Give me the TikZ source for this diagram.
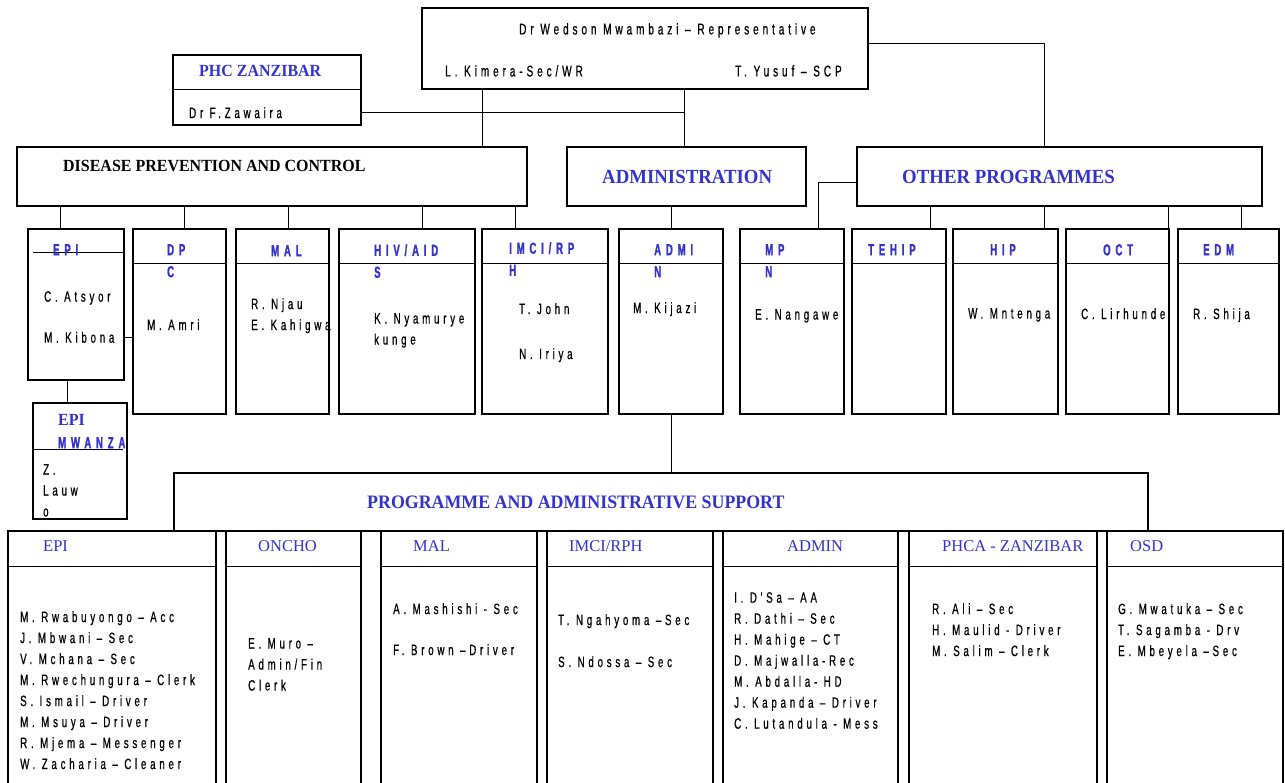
\documentclass[tikz,border=0pt]{standalone}
\usepackage{fontspec}
\setmainfont{Liberation Serif}
\newfontfamily\namefont{Liberation Sans}[FakeStretch=0.65,LetterSpace=25,FakeBold=0.6]
\newfontfamily\tagfont{Liberation Sans}[FakeStretch=0.6,LetterSpace=30,BoldFeatures={FakeBold=1.2}]
\newfontfamily\headfont{Liberation Serif}[FakeStretch=0.94]
\definecolor{orgblue}{RGB}{51,51,204}
\tikzset{
  unit/.style={draw,line width=1.2pt,inner sep=0pt,outer sep=0pt,anchor=north west},
  link/.style={line width=1pt},
  head/.style={inner sep=0pt,anchor=mid west,font=\headfont\bfseries\fontsize{#1}{#1}\selectfont},
  tag/.style={inner sep=0pt,anchor=north west,align=left,text=orgblue,font=\tagfont\bfseries\fontsize{16}{22}\selectfont},
  who/.style={inner sep=0pt,anchor=north west,align=left,font=\namefont\fontsize{#1}{21}\selectfont},
  who/.default=15,
  unitname/.style={inner sep=0pt,anchor=mid west,text=orgblue,font=\fontsize{16.5}{18}\selectfont}
}
\begin{document}
\begin{tikzpicture}[x=1pt,y=-1pt]
    \path[use as bounding box,fill=white] (0,0) rectangle (1285,782);
    \node[unit,minimum width=446pt,minimum height=81pt] (rep) at (422,8) {};
    \node[unit,minimum width=188pt,minimum height=70pt] (phc) at (173,55) {};
    \node[unit,minimum width=510pt,minimum height=59pt] (prev) at (17,147) {};
    \node[unit,minimum width=239pt,minimum height=59pt] (adm) at (567,147) {};
    \node[unit,minimum width=405pt,minimum height=59pt] (oth) at (857,147) {};
    \node[unit,minimum width=96pt,minimum height=151pt] (epi) at (28,229) {};
    \foreach \nm/\xa/\ww in {dpc/133/93,mal/236/93,hiv/339/136,imci/482/126,admn/619/104,mpn/740/104,tehip/852/94,hip/953/105,oct/1066/103,edm/1178/101}
        \node[unit,minimum width=\ww pt,minimum height=185pt] (\nm) at (\xa,229) {};
    \node[unit,minimum width=94pt,minimum height=116pt] (mwanza) at (33,403) {};
    \node[unit,minimum width=974pt,minimum height=58pt] (pas) at (174,473) {};
    \foreach \nm/\xa/\ww in {b-epi/8/208,b-oncho/226/135,b-mal/381/156,b-imci/547/166,b-admin/723/175,b-phca/909/188,b-osd/1107/176}
        \node[unit,minimum width=\ww pt,minimum height=259pt] (\nm) at (\xa,531) {};

    \draw[link] ([yshift=-34pt]phc.north west) -- ([yshift=-34pt]phc.north east);
    \draw[link] ([shift={(5pt,-23pt)}]epi.north west) -- ([yshift=-23pt]epi.north east);
    \foreach \nm in {dpc,mal,hiv,imci,admn,mpn,tehip,hip,oct,edm}
        \draw[link] ([yshift=-34pt]\nm.north west) -- ([yshift=-34pt]\nm.north east);
    \draw[link] ([yshift=-46pt]mwanza.north west) -- ([shift={(-4pt,-46pt)}]mwanza.north east);
    \foreach \nm in {b-epi,b-oncho,b-mal,b-imci,b-admin,b-phca,b-osd}
        \draw[link] ([yshift=-35pt]\nm.north west) -- ([yshift=-35pt]\nm.north east);

    \coordinate (join) at (684,112);
    \draw[link] (rep.south -| 482,0) -- (prev.north -| 482,0);
    \draw[link] (rep.south -| join) -- (adm.north -| join);
    \draw[link] (phc.east |- join) -- (join);
    \draw[link] (rep.east |- 0,43) -| (oth.north -| 1044,0);
    \draw[link] (oth.west |- 0,182) -| (mpn.north -| 818,0);
    \foreach \nm/\xx in {epi/60,dpc/184,mal/288,hiv/422,imci/515}
        \draw[link] (prev.south -| \xx,0) -- (\nm.north -| \xx,0);
    \foreach \nm/\xx in {tehip/930,hip/1044,oct/1168,edm/1241}
        \draw[link] (oth.south -| \xx,0) -- (\nm.north -| \xx,0);
    \draw[link] (adm.south -| 671,0) -- (admn.north -| 671,0);
    \draw[link] (admn.south -| 671,0) -- (pas.north -| 671,0);
    \draw[link] (epi.east |- 0,337) -- (dpc.west |- 0,337);
    \draw[link] (epi.south -| 67,0) -- (mwanza.north -| 67,0);

    \node[who=15.5] (t-rep) at (519,23) {Dr Wedson Mwambazi – Representative};
    \node[who=15.5] (t-sec) at (445,65) {L. Kimera-Sec/WR};
    \node[who=15.5] (t-scp) at (735,65) {T. Yusuf – SCP};
    \node[head=17,text=orgblue] (t-phc) at (199,74) {PHC ZANZIBAR};
    \node[who] (n-phc) at (189,107) {Dr F.Zawaira};
    \node[head=17] (t-prev) at (63,169) {DISEASE PREVENTION AND CONTROL};
    \node[head=20,text=orgblue] (t-adm) at (602,181) {ADMINISTRATION};
    \node[head=20,text=orgblue] (t-oth) at (902,181) {OTHER PROGRAMMES};
    \node[head=19,text=orgblue] (t-pas) at (367,506) {PROGRAMME AND ADMINISTRATIVE SUPPORT};

    \node[tag] (t-epi) at (53,244) {EPI};
    \node[tag] (t-dpc) at (167,244) {DP\\C};
    \node[tag] (t-mal) at (271,245) {MAL};
    \node[tag] (t-hiv) at (374,244) {HIV/AID\\S};
    \node[tag] (t-imci) at (509,242) {IMCI/RP\\H};
    \node[tag] (t-admn) at (654,244) {ADMI\\N};
    \node[tag] (t-mpn) at (765,244) {MP\\N};
    \node[tag] (t-tehip) at (868,244) {TEHIP};
    \node[tag] (t-hip) at (990,244) {HIP};
    \node[tag] (t-oct) at (1103,244) {OCT};
    \node[tag] (t-edm) at (1203,244) {EDM};
    \node[head=17,text=orgblue] (t-mw1) at (58,423) {EPI};
    \node[tag] (t-mw2) at (58,437) {MWANZA};

    \node[who] (n-epi) at (44,291) {C. Atsyor\\[20pt]M. Kibona};
    \node[who] (n-dpc) at (147,319) {M. Amri};
    \node[who] (n-mal) at (251,298) {R. Njau\\E. Kahigwa};
    \node[who] (n-hiv) at (374,313) {K. Nyamurye\\kunge};
    \node[who] (n-imci) at (519,303) {T. John\\[24pt]N. Iriya};
    \node[who] (n-admn) at (633,302) {M. Kijazi};
    \node[who] (n-mpn) at (755,309) {E. Nangawe};
    \node[who] (n-hip) at (968,308) {W. Mntenga};
    \node[who] (n-oct) at (1081,308) {C. Lirhunde};
    \node[who] (n-edm) at (1193,308) {R. Shija};
    \node[who] (n-mw) at (43,464) {Z.\\Lauw\\o};

    \node[unitname] (t-b-epi) at (43,549) {EPI};
    \node[unitname] (t-b-oncho) at (258,549) {ONCHO};
    \node[unitname] (t-b-mal) at (413,549) {MAL};
    \node[unitname] (t-b-imci) at (569,549) {IMCI/RPH};
    \node[unitname] (t-b-admin) at (787,549) {ADMIN};
    \node[unitname] (t-b-phca) at (942,549) {PHCA - ZANZIBAR};
    \node[unitname] (t-b-osd) at (1130,549) {OSD};

    \node[who] (n-b-epi) at (20,611) {M. Rwabuyongo – Acc\\J. Mbwani – Sec\\V. Mchana – Sec\\M. Rwechungura – Clerk\\S. Ismail – Driver\\M. Msuya – Driver\\R. Mjema – Messenger\\W. Zacharia – Cleaner};
    \node[who] (n-b-oncho) at (248,638) {E. Muro –\\Admin/Fin\\Clerk};
    \node[who] (n-b-mal) at (393,603) {A. Mashishi - Sec\\[20pt]F. Brown –Driver};
    \node[who] (n-b-imci) at (558,614) {T. Ngahyoma –Sec\\[21pt]S. Ndossa – Sec};
    \node[who] (n-b-admin) at (734,592) {I. D'Sa – AA\\R. Dathi – Sec\\H. Mahige – CT\\D. Majwalla-Rec\\M. Abdalla- HD\\J. Kapanda – Driver\\C. Lutandula - Mess};
    \node[who] (n-b-phca) at (932,603) {R. Ali – Sec\\H. Maulid - Driver\\M. Salim – Clerk};
    \node[who] (n-b-osd) at (1118,603) {G. Mwatuka – Sec\\T. Sagamba - Drv\\E. Mbeyela –Sec};
\end{tikzpicture}
\end{document}
